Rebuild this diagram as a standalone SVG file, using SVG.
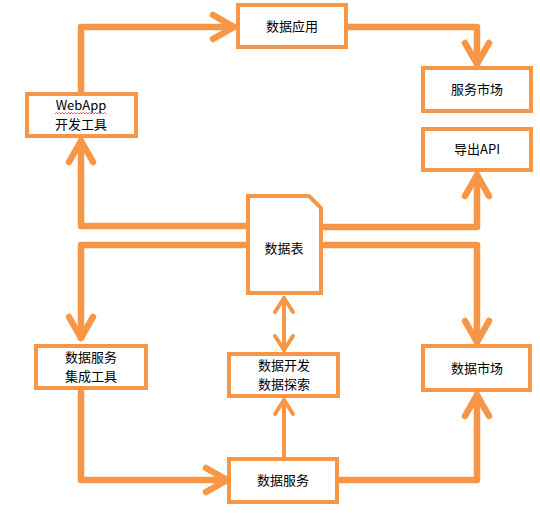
<svg xmlns="http://www.w3.org/2000/svg" width="540" height="513" viewBox="0 0 540 513">
<style>
.box{fill:#fff;stroke:#F79646;stroke-width:4}
.ln{fill:none;stroke:#F79646;stroke-width:6.5;stroke-linejoin:round;stroke-linecap:round}
.thin{fill:none;stroke:#F79646;stroke-width:4;stroke-linejoin:round;stroke-linecap:round}
.t{font-family:"Noto Sans CJK SC","Liberation Sans",sans-serif;font-size:13px;fill:#000;text-anchor:middle}
</style>
<rect width="540" height="513" fill="#fff"/>
<g id="connectors">
<path class="ln" d="M81,93 V27 H233"/>
<path class="ln" d="M213,15 L234,27 L213,39"/>
<path class="ln" d="M348,27 H477 V64"/>
<path class="ln" d="M465,43 L477,64 L489,43"/>
<path class="ln" d="M246,226 H81 V141"/>
<path class="ln" d="M69,162 L81,141 L93,162"/>
<path class="ln" d="M322,227 H477 V175"/>
<path class="ln" d="M465,196 L477,175 L489,196"/>
<path class="ln" d="M246,245 H81 V338"/>
<path class="ln" d="M69,317 L81,338 L93,317"/>
<path class="ln" d="M322,245 H477 V342"/>
<path class="ln" d="M465,321 L477,342 L489,321"/>
<path class="thin" d="M284,298 V350"/>
<path class="thin" d="M275,312 L284,298 L293,312"/>
<path class="thin" d="M275,336 L284,350 L293,336"/>
<path class="ln" d="M81,391 V480 H226"/>
<path class="ln" d="M206,468 L227,480 L206,492"/>
<path class="thin" d="M284,457 V400"/>
<path class="thin" d="M275,414 L284,400 L293,414"/>
<path class="ln" d="M339,480 H477 V395"/>
<path class="ln" d="M465,416 L477,395 L489,416"/>
</g>
<g id="n-app"><rect class="box" x="238" y="5" width="108" height="42"/><text class="t" x="292" y="31">数据应用</text></g>
<g id="n-market"><rect class="box" x="423" y="68" width="108" height="43"/><text class="t" x="477" y="94">服务市场</text></g>
<g id="n-api"><rect class="box" x="423" y="129" width="108" height="41"/><text class="t" x="477" y="154">导出API</text></g>
<g id="n-webapp"><rect class="box" x="27" y="94" width="109" height="42"/><text class="t" x="81" y="110">WebApp</text><text class="t" x="81" y="129">开发工具</text><path d="M55,114 l1.5,-1.5 l1.5,1.5 l1.5,-1.5 l1.5,1.5 l1.5,-1.5 l1.5,1.5 l1.5,-1.5 l1.5,1.5 l1.5,-1.5 l1.5,1.5 l1.5,-1.5 l1.5,1.5 l1.5,-1.5 l1.5,1.5 l1.5,-1.5 l1.5,1.5 l1.5,-1.5 l1.5,1.5 l1.5,-1.5 l1.5,1.5 l1.5,-1.5 l1.5,1.5 l1.5,-1.5 l1.5,1.5 l1.5,-1.5 l1.5,1.5 l1.5,-1.5 l1.5,1.5 l1.5,-1.5 l1.5,1.5 l1.5,-1.5 l1.5,1.5 l1.5,-1.5 l1.5,1.5" fill="none" stroke="#e33" stroke-width="0.8"/></g>
<g id="n-table"><path class="box" d="M248,196 H309 L321,208 V293 H248 Z"/><text class="t" x="284" y="253">数据表</text></g>
<g id="n-integ"><rect class="box" x="36" y="346" width="110" height="42"/><text class="t" x="91" y="362">数据服务</text><text class="t" x="91" y="381">集成工具</text></g>
<g id="n-dev"><rect class="box" x="229" y="354" width="109" height="42"/><text class="t" x="284" y="370">数据开发</text><text class="t" x="284" y="389">数据探索</text></g>
<g id="n-dmarket"><rect class="box" x="423" y="346" width="107" height="44"/><text class="t" x="477" y="373">数据市场</text></g>
<g id="n-service"><rect class="box" x="229" y="459" width="108" height="43"/><text class="t" x="283" y="485">数据服务</text></g>
</svg>
